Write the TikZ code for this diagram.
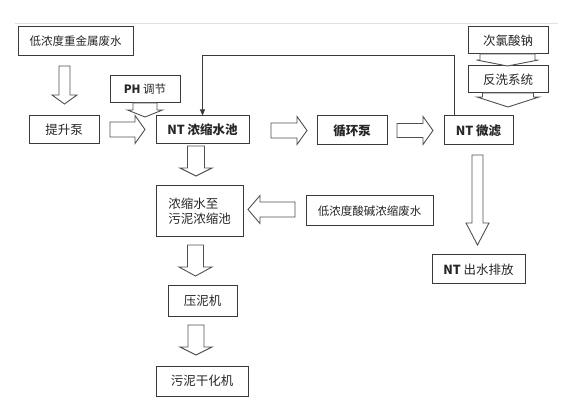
\documentclass[tikz,border=0pt]{standalone}
\usepackage{fontspec}
\setmainfont{Noto Sans CJK SC}
\usetikzlibrary{arrows.meta}
\definecolor{edge}{HTML}{3A3A3A}
\definecolor{blkedge}{HTML}{505050}
\tikzset{
  bx/.style={draw=edge, line width=1pt, inner sep=0pt, font=\fontsize{12.5}{15}\selectfont, text=black!85},
  smallbx/.style={bx, font=\fontsize{11.5}{14}\selectfont},
  blk/.style={draw=blkedge, line width=0.9pt, fill=white, line join=miter},
  fbline/.style={draw=edge, line width=0.9pt, -{Triangle[length=6pt,width=5pt]}}
}
\newcommand\vblk[6]{\draw[blk] (#1-#2,#4) -- (#1+#2,#4) -- (#1+#2,#5) -- (#1+#3,#5) -- (#1,#6) -- (#1-#3,#5) -- (#1-#2,#5) -- cycle;}
\newcommand\hblk[6]{\draw[blk] (#4,#1-#2) -- (#5,#1-#2) -- (#5,#1-#3) -- (#6,#1) -- (#5,#1+#3) -- (#5,#1+#2) -- (#4,#1+#2) -- cycle;}
\begin{document}
\begin{tikzpicture}[x=1pt,y=-1pt]
\useasboundingbox (0,0) rectangle (562,403);
\draw[black!12, line width=0.8pt] (15,23) -- (558,23);
% boxes
\node[smallbx, minimum width=115pt, minimum height=29pt] (src) at (75.5,41.5) {低浓度重金属废水};
\node[bx, minimum width=70pt, minimum height=28pt] (pump) at (64,130) {提升泵};
\node[smallbx, minimum width=70pt, minimum height=27pt] (ph) at (145,89.5) {\textbf{PH} 调节};
\node[bx, minimum width=93pt, minimum height=28pt] (nt) at (202.5,130) {\textbf{NT 浓缩水池}};
\node[bx, minimum width=70pt, minimum height=29pt] (cyc) at (352,130.5) {\textbf{循环泵}};
\node[bx, minimum width=69pt, minimum height=29pt] (mf) at (478.5,130.5) {\textbf{NT 微滤}};
\node[bx, minimum width=80pt, minimum height=27pt] (naclo) at (508,40.5) {次氯酸钠};
\node[bx, minimum width=80pt, minimum height=27pt] (bw) at (508,79.5) {反洗系统};
\node[bx, minimum width=93pt, minimum height=29pt] (out) at (478.5,269.5) {\textbf{NT} 出水排放};
\node[bx, minimum width=87pt, minimum height=51pt, align=left] (sl) at (199.5,211.5) {浓缩水至\\污泥浓缩池};
\node[smallbx, minimum width=127pt, minimum height=30pt] (acid) at (369.5,211) {低浓度酸碱浓缩废水};
\node[bx, minimum width=69pt, minimum height=30pt] (press) at (202.5,301) {压泥机};
\node[bx, minimum width=92pt, minimum height=30pt] (dry) at (202,381) {污泥干化机};
% feedback line
\draw[fbline] ([xshift=11pt]mf.north west) -- ++(0,-60) -| (nt.north);
% block arrows
\vblk{64.5}{5.5}{12.5}{66}{95}{104}
\hblk{129.5}{7.5}{14}{110}{135}{145}
\vblk{145}{12}{17.5}{103}{110}{117}
\hblk{130.5}{7.5}{14}{271}{297}{307}
\hblk{130.5}{7}{14}{397}{423}{433}
\vblk{507.5}{27.5}{31}{54}{60}{66}
\vblk{508}{25.5}{31}{93}{97}{107}
\vblk{477.5}{5.5}{11.5}{155}{223}{245}
\vblk{196}{8.5}{16}{146}{168}{176}
\hblk{209.5}{7.5}{14}{295}{260}{248}
\vblk{195.5}{8}{16.5}{245}{267}{276}
\vblk{196}{8}{16}{325}{347}{355}
\end{tikzpicture}
\end{document}
